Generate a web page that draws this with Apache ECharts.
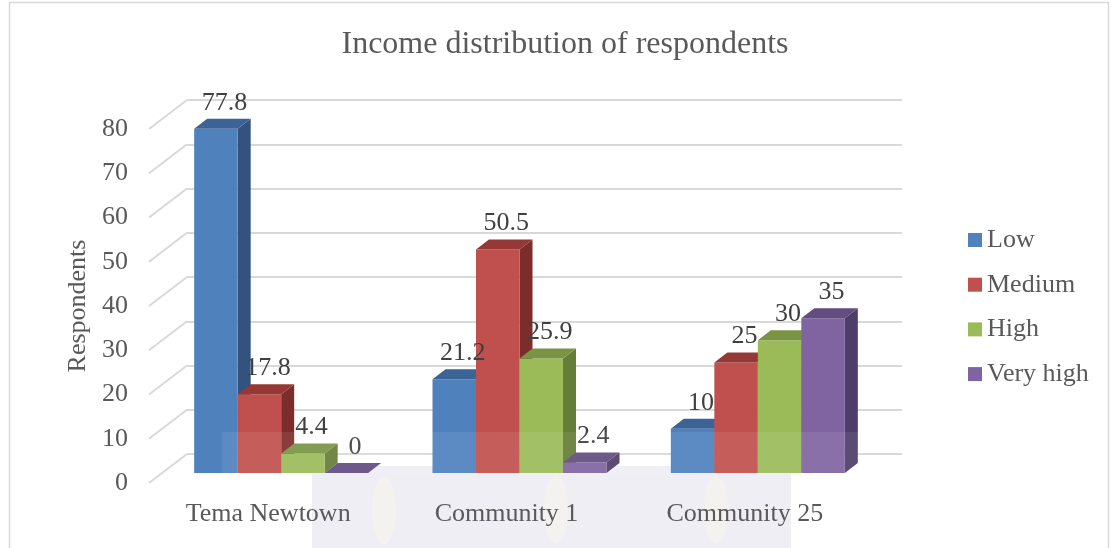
<!DOCTYPE html>
<html>
<head>
<meta charset="utf-8">
<title>Income distribution of respondents</title>
<script src="https://cdn.jsdelivr.net/npm/echarts@6/dist/echarts.min.js"></script>
<style>
  html, body { margin: 0; padding: 0; background: #ffffff; }
  #chart { width: 1112px; height: 548px; }
</style>
</head>
<body>
<div id="chart"></div>
<script>
// ---- data ----
const categories = ['Tema Newtown', 'Community 1', 'Community 25'];
const seriesNames = ['Low', 'Medium', 'High', 'Very high'];
const low      = [77.8, 21.2, 10];
const medium   = [17.8, 50.5, 25];
const high     = [4.4, 25.9, 30];
const veryHigh = [0, 2.4, 35];
const yTicks   = [0, 10, 20, 30, 40, 50, 60, 70, 80];

const seriesValues = [low, medium, high, veryHigh];

// ---- look ----
const SERIF = '"Liberation Serif", "Times New Roman", serif';
const TEXT = '#595959';
const palette = [
  { front: '#4F81BD', top: '#3C6396', side: '#33527E' },
  { front: '#C0504D', top: '#963836', side: '#7C2D2B' },
  { front: '#9BBB59', top: '#7A9444', side: '#647D38' },
  { front: '#8064A2', top: '#624C80', side: '#4E3D68' }
];
// depth of one bar (screen offset of its back face)
const DX = 13, DY = -10;
const BAR_FRAC = 0.1825;   // bar width as a share of the category band

const chart = echarts.init(document.getElementById('chart'), null, { renderer: 'canvas' });

function barRenderer(s) {
  const c = palette[s];
  return function (params, api) {
    const i = api.value(0);
    const v = api.value(1);
    const top = api.coord([i, v]);
    const base = api.coord([i, 0]);
    const band = api.size([1, 0])[0];
    const bw = band * BAR_FRAC;
    const l = top[0] - 2 * bw + s * bw;
    const r = l + bw;
    const yt = top[1];
    const y0 = base[1];
    return {
      type: 'group',
      children: [
        {
          type: 'polygon',
          shape: { points: [[r, yt], [r + DX, yt + DY], [r + DX, y0 + DY], [r, y0]] },
          style: { fill: c.side }
        },
        {
          type: 'rect',
          shape: { x: l, y: yt, width: bw, height: y0 - yt },
          style: { fill: c.front }
        },
        {
          type: 'polygon',
          shape: { points: [[l, yt], [r, yt], [r + DX, yt + DY], [l + DX, yt + DY]] },
          style: { fill: c.top }
        },
        {
          type: 'text',
          z2: 50,
          style: {
            x: (l + r) / 2 + DX / 2 + 2,
            y: yt - 26,
            text: String(v),
            align: 'center',
            verticalAlign: 'middle',
            font: '26px ' + SERIF,
            fill: '#404040'
          }
        }
      ]
    };
  };
}

const barSeries = seriesNames.map(function (name, s) {
  return {
    type: 'custom',
    name: name,
    xAxisIndex: 2,
    yAxisIndex: 2,
    itemStyle: { color: palette[s].front },
    renderItem: barRenderer(s),
    data: seriesValues[s].map(function (v, i) { return [i, v]; }),
    z: 3
  };
});

// side-wall lines running from the front floor edge to the back wall
const sideWall = {
  type: 'custom',
  name: 'sideWall',
  xAxisIndex: 1,
  yAxisIndex: 1,
  silent: true,
  z: 1,
  data: yTicks.map(function (t) { return [0, t]; }),
  renderItem: function (params, api) {
    const p = api.coord([0, api.value(1)]);
    const x0 = params.coordSys.x;
    return {
      type: 'line',
      shape: { x1: x0, y1: p[1], x2: x0 + 38, y2: p[1] - 29 },
      style: { stroke: '#d9d9d9', lineWidth: 2 }
    };
  }
};

const hiddenCat = { type: 'category', data: categories, show: false };

const option = {
  backgroundColor: '#ffffff',
  animation: false,
  title: {
    text: 'Income distribution of respondents',
    left: 560,
    textAlign: 'center',
    top: 24,
    textStyle: { fontFamily: SERIF, fontSize: 32, fontWeight: 'normal', color: TEXT }
  },
  legend: {
    orient: 'vertical',
    left: 963,
    top: 222,
    itemWidth: 14,
    itemHeight: 14,
    itemGap: 18.7,
    icon: 'rect',
    data: seriesNames,
    textStyle: { fontFamily: SERIF, fontSize: 26, color: TEXT, lineHeight: 26 }
  },
  grid: [
    { left: 187, top: 100, width: 715, height: 354 },   // back wall
    { left: 149, top: 129, width: 715, height: 354 },   // front floor edge
    { left: 162, top: 119, width: 715, height: 354 }    // bar front faces
  ],
  xAxis: [
    Object.assign({ gridIndex: 0 }, hiddenCat),
    {
      gridIndex: 1,
      type: 'category',
      data: categories,
      axisLine: { show: false },
      axisTick: { show: false },
      axisLabel: { margin: 18, fontFamily: SERIF, fontSize: 26, color: TEXT }
    },
    Object.assign({ gridIndex: 2 }, hiddenCat)
  ],
  yAxis: [
    {
      gridIndex: 0, type: 'value', min: 0, max: 80, interval: 10,
      axisLine: { show: false }, axisTick: { show: false }, axisLabel: { show: false },
      splitLine: { lineStyle: { color: '#d9d9d9', width: 2 } }
    },
    {
      gridIndex: 1, type: 'value', min: 0, max: 80, interval: 10,
      axisLine: { show: false }, axisTick: { show: false },
      splitLine: { show: false },
      axisLabel: { margin: 21, fontFamily: SERIF, fontSize: 26, color: TEXT },
      name: 'Respondents',
      nameLocation: 'middle',
      nameRotate: 90,
      nameGap: 57,
      nameTextStyle: { fontFamily: SERIF, fontSize: 26, color: TEXT }
    },
    {
      gridIndex: 2, type: 'value', min: 0, max: 80, interval: 10, show: false,
      splitLine: { show: false }
    }
  ],
  graphic: [
    {
      type: 'rect', z: -10, silent: true,
      shape: { x: 9.5, y: 2.5, width: 1099, height: 600 },
      style: { fill: 'none', stroke: '#d9d9d9', lineWidth: 1.5 }
    },
    // pale emblem in the lower middle, kept behind the text
    {
      type: 'rect', z: -10, silent: true,
      shape: { x: 312, y: 466, width: 479, height: 90 },
      style: { fill: '#EFEEF5' }
    },
    {
      type: 'ellipse', z: -9, silent: true,
      shape: { cx: 384, cy: 510, rx: 12, ry: 34 },
      style: { fill: 'rgba(250,247,232,0.45)' }
    },
    {
      type: 'ellipse', z: -9, silent: true,
      shape: { cx: 556, cy: 510, rx: 12, ry: 34 },
      style: { fill: 'rgba(250,247,232,0.45)' }
    },
    {
      type: 'ellipse', z: -9, silent: true,
      shape: { cx: 716, cy: 510, rx: 12, ry: 34 },
      style: { fill: 'rgba(250,247,232,0.45)' }
    },
    // its faint veil over the feet of the bars
    {
      type: 'rect', z: 100, silent: true,
      shape: { x: 222, y: 432, width: 640, height: 42 },
      style: { fill: 'rgba(255,255,255,0.08)' }
    }
  ],
  series: [sideWall].concat(barSeries)
};

chart.setOption(option);
</script>
</body>
</html>
